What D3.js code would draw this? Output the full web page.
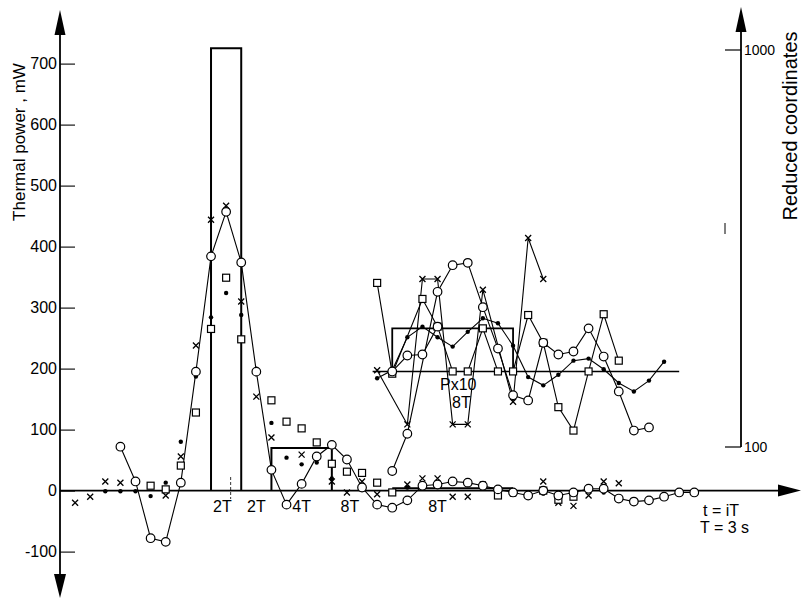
<!DOCTYPE html>
<html>
<head>
<meta charset="utf-8">
<script src="https://cdn.jsdelivr.net/npm/d3@7"></script>
<style>
  body { margin: 0; background: #fff; }
  svg { display: block; }
  text { font-family: "Liberation Sans", Arial, sans-serif; fill: #000; }
</style>
</head>
<body>
<svg id="chart" width="802" height="599"></svg>
<script>
// ---- data -------------------------------------------------------------
// time is counted in steps i (t = iT, T = 3 s); power in mW
const powerTicks = [-100, 0, 100, 200, 300, 400, 500, 600, 700];
const reducedTicks = [100, 1000];

// measured thermal power, open-circle record (connected)
const powerCircles = [[4,72],[5,15],[6,-78],[7,-84],[8,13],[9,195],[10,384],[11,457],[12,374],
  [13,195],[14,34],[15,-23],[16,11],[17,56],[18,75],[19,51],[20,5],[21,-23],[22,-28],[23,-16],
  [24,8],[25,10],[26,15],[27,13],[28,8],[29,2],[30,-3],[31,-8],[32,0],[33,-8],[34,-3],[35,3],
  [36,3],[37,-13],[38,-18],[39,-16],[40,-10],[41,-3],[42,-3]];
// other records, plotted as isolated points
const powerCrosses = [[1,-20],[2,-10],[3,15],[4,13],[7,-8],[8,56],[9,238],[10,444],[11,467],
  [12,310],[13,154],[14,87],[16,59],[18,15],[19,-3],[20,15],[21,-6],[23,10],[24,20],[25,20],
  [26,-10],[27,-10],[28,10],[30,-5],[32,15],[33,-20],[34,-25],[35,-8],[36,15],[37,12]];
const powerSquares = [[6,8],[7,2],[8,41],[9,128],[10,265],[11,349],[12,248],[14,148],[15,113],
  [16,102],[17,79],[18,44],[19,31],[20,29],[21,13],[22,-3],[29,-8],[32,0],[33,-15],[34,-10]];
const powerDots = [[3,-1],[4,-1],[5,-1],[6,-9],[7,13],[8,80],[9,187],[10,284],[11,324],[12,288],
  [13,200],[14,111],[15,54],[16,43],[17,46],[18,20],[20,5],[23,5],[32,-5],[33,-3],[36,-3]];

// heat pulses: [first step, last step, level in mW]
const pulses = [[10, 12, 725], [14, 18, 70]];
// 8T mean of the response
const meanLevel = [[22, 30, 4]];

// reduced coordinates (P x 10, 8T running value), logarithmic scale
const reducedCircles = [[22,87],[23,108],[25,246],[26,287],[27,291],[28,225],[29,177],[30,135],
  [31,131],[32,183],[33,171],[34,174],[35,199],[36,169],[37,138],[38,110],[39,112]];
const reducedCircles2 = [[22,155],[23,170],[24,171],[25,201]];
const reducedSquares = [[21,259],[22,153],[24,236],[25,201],[26,155],[27,155],[28,199],[29,155],
  [30,155],[31,215],[32,183],[33,126],[34,110],[35,155],[36,216],[37,165]];
const reducedCrosses = [[21,156],[23,114],[24,265],[25,265],[26,114],[27,114],[28,249],[30,130],
  [31,336],[32,265]];
const reducedDots = [[21,149],[22,156],[23,189],[24,201],[25,189],[26,179],[27,195],[28,211],
  [29,205],[30,180],[31,150],[32,143],[33,152],[34,165],[35,167],[36,157],[37,145],[38,138],
  [39,147],[40,164]];
const reducedBase = [[20.7, 41, 155]];
const reducedBlock = [[22, 30, 199]];

// ---- drawing ----------------------------------------------------------
const svg = d3.select("#chart");
const x = d3.scaleLinear().domain([0, 49]).range([60, 800]);
const y = d3.scaleLinear().domain([-100, 700]).range([551.6, 63.6]);
const yR = d3.scaleLog().domain([100, 1000]).range([447, 50]);

const ink = "#000";

// left axis with arrows at both ends
svg.append("line").attr("x1", 60).attr("x2", 60).attr("y1", 30).attr("y2", 580)
  .attr("stroke", ink).attr("stroke-width", 1.8);
svg.append("path").attr("d", "M60,10 L54.5,35 L65.5,35 Z").attr("fill", ink);
svg.append("path").attr("d", "M60,598 L54,574 L66,574 Z").attr("fill", ink);

const yAxis = d3.axisLeft(y).tickValues(powerTicks).tickSizeInner(-15).tickSizeOuter(0).tickPadding(3)
  .tickFormat(d => d < 0 ? "-" + Math.abs(d) : d);
const ga = svg.append("g").attr("transform", "translate(60,0)").call(yAxis);
ga.select(".domain").remove();
ga.selectAll(".tick line").attr("stroke", ink).attr("stroke-width", 1.1);
ga.selectAll(".tick text").attr("font-size", 16).attr("font-family", "Liberation Sans, Arial, sans-serif")
  .attr("fill", ink);

svg.append("text").attr("transform", "translate(25,142) rotate(-90)")
  .attr("text-anchor", "middle").attr("font-size", 17).text("Thermal power , mW");

// time axis
svg.append("line").attr("x1", 60).attr("x2", 782).attr("y1", y(0)).attr("y2", y(0))
  .attr("stroke", ink).attr("stroke-width", 1.8);
svg.append("path").attr("d", `M801,${y(0)} L778,${y(0)-6} L778,${y(0)+6} Z`).attr("fill", ink);
svg.append("text").attr("x", 703).attr("y", 516).attr("font-size", 16).text("t = iT");
svg.append("text").attr("x", 700).attr("y", 533).attr("font-size", 16).text("T = 3 s");

// interval labels under the time axis
const intervalLabels = [[10.75, "2T"], [13, "2T"], [16, "4T"], [19.2, "8T"], [25, "8T"]];
svg.selectAll("text.iv").data(intervalLabels).join("text").attr("class", "iv")
  .attr("x", d => x(d[0])).attr("y", 512).attr("text-anchor", "middle").attr("font-size", 16)
  .text(d => d[1]);
svg.append("line").attr("x1", x(11.3)).attr("x2", x(11.3)).attr("y1", 477).attr("y2", 499)
  .attr("stroke", ink).attr("stroke-width", 0.8).attr("stroke-dasharray", "3,2");

// right (reduced) axis
svg.append("line").attr("x1", 741).attr("x2", 741).attr("y1", 28).attr("y2", yR(100))
  .attr("stroke", ink).attr("stroke-width", 1.8);
svg.append("path").attr("d", "M741,7 L735.5,32 L746.5,32 Z").attr("fill", ink);
const rAxis = svg.append("g");
rAxis.selectAll("line").data(reducedTicks).join("line")
  .attr("x1", 725).attr("x2", 741).attr("y1", d => yR(d)).attr("y2", d => yR(d))
  .attr("stroke", ink).attr("stroke-width", 1.2);
rAxis.selectAll("text").data(reducedTicks).join("text")
  .attr("x", 744).attr("y", d => yR(d) + 5).attr("font-size", 14).text(d => d);
svg.append("line").attr("x1", 725).attr("x2", 725).attr("y1", 223).attr("y2", 234)
  .attr("stroke", ink).attr("stroke-width", 1);
svg.append("text").attr("transform", "translate(797,126) rotate(-90)")
  .attr("text-anchor", "middle").attr("font-size", 20).text("Reduced coordinates");

// heat pulses
const stepPath = (d, ys) => `M${x(d[0])},${y(0)} L${x(d[0])},${ys(d[2])} L${x(d[1])},${ys(d[2])} L${x(d[1])},${y(0)}`;
svg.selectAll("path.pulse").data(pulses).join("path").attr("class", "pulse")
  .attr("d", d => stepPath(d, y)).attr("fill", "none").attr("stroke", ink).attr("stroke-width", 2);
svg.selectAll("line.mean").data(meanLevel).join("line").attr("class", "mean")
  .attr("x1", d => x(d[0])).attr("x2", d => x(d[1])).attr("y1", d => y(d[2])).attr("y2", d => y(d[2]))
  .attr("stroke", ink).attr("stroke-width", 2);

// reduced-coordinate frame
svg.selectAll("line.rbase").data(reducedBase).join("line").attr("class", "rbase")
  .attr("x1", d => x(d[0])).attr("x2", d => x(d[1])).attr("y1", d => yR(d[2])).attr("y2", d => yR(d[2]))
  .attr("stroke", ink).attr("stroke-width", 1.4);
svg.selectAll("path.rblock").data(reducedBlock).join("path").attr("class", "rblock")
  .attr("d", d => `M${x(d[0])},${yR(155)} L${x(d[0])},${yR(d[2])} L${x(d[1])},${yR(d[2])} L${x(d[1])},${yR(155)}`)
  .attr("fill", "none").attr("stroke", ink).attr("stroke-width", 1.8);
svg.append("text").attr("x", 440).attr("y", 390).attr("font-size", 16).text("Px10");
svg.append("text").attr("x", 452).attr("y", 408).attr("font-size", 16).text("8T");

// series helpers
const line = ys => d3.line().x(d => x(d[0])).y(d => ys(d[1]));
function trace(data, ys) {
  svg.append("path").datum(data).attr("d", line(ys)).attr("fill", "none")
    .attr("stroke", ink).attr("stroke-width", 1.1);
}
function circles(data, ys) {
  svg.append("g").selectAll("circle").data(data).join("circle")
    .attr("cx", d => x(d[0])).attr("cy", d => ys(d[1])).attr("r", 4.3)
    .attr("fill", "#fff").attr("stroke", ink).attr("stroke-width", 1.2);
}
function squares(data, ys) {
  svg.append("g").selectAll("rect").data(data).join("rect")
    .attr("x", d => x(d[0]) - 3.5).attr("y", d => ys(d[1]) - 3.5).attr("width", 7).attr("height", 7)
    .attr("fill", "#fff").attr("stroke", ink).attr("stroke-width", 1.2);
}
function crosses(data, ys) {
  const s = 3;
  svg.append("g").selectAll("path").data(data).join("path")
    .attr("d", d => { const cx = x(d[0]), cy = ys(d[1]);
      return `M${cx-s},${cy-s}L${cx+s},${cy+s}M${cx+s},${cy-s}L${cx-s},${cy+s}`; })
    .attr("stroke", ink).attr("stroke-width", 1.3);
}
function dots(data, ys) {
  svg.append("g").selectAll("circle").data(data).join("circle")
    .attr("cx", d => x(d[0])).attr("cy", d => ys(d[1])).attr("r", 2.2).attr("fill", ink);
}

// reduced-coordinate traces
trace(reducedSquares, yR); trace(reducedCrosses, yR); trace(reducedDots, yR);
trace(reducedCircles, yR); trace(reducedCircles2, yR);
// power trace
trace(powerCircles, y);

dots(powerDots, y); crosses(powerCrosses, y); squares(powerSquares, y); circles(powerCircles, y);
dots(reducedDots, yR); crosses(reducedCrosses, yR); squares(reducedSquares, yR);
circles(reducedCircles, yR); circles(reducedCircles2, yR);
</script>
</body>
</html>
